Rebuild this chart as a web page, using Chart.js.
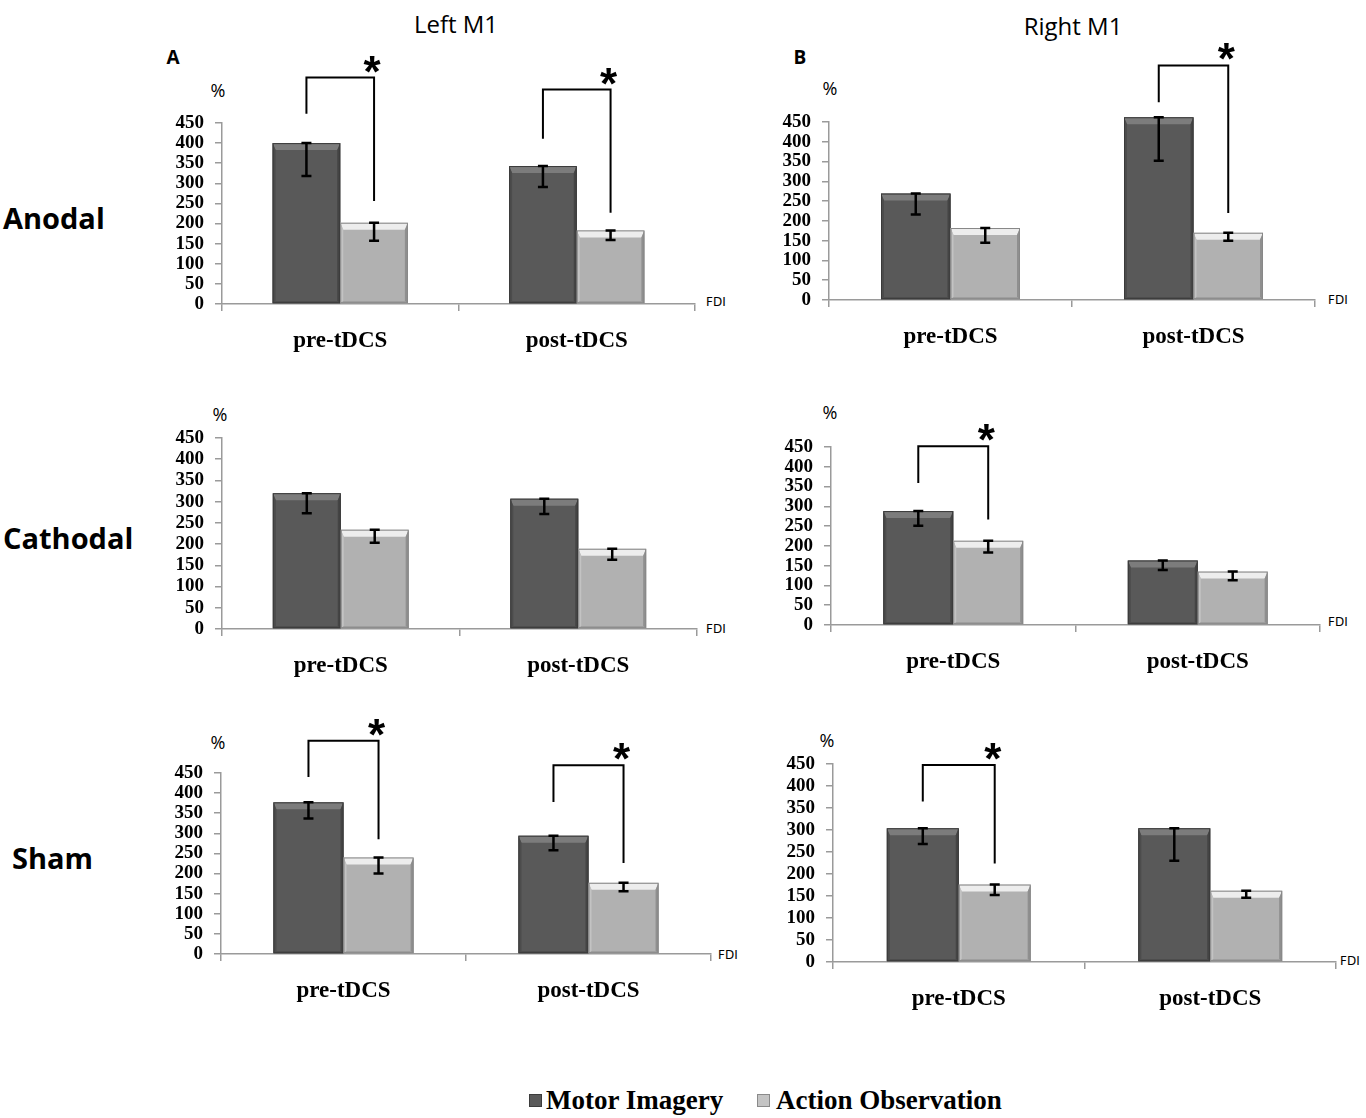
<!DOCTYPE html>
<html>
<head>
<meta charset="utf-8">
<script src="https://cdn.jsdelivr.net/npm/chart.js@4.4.0/dist/chart.umd.min.js"></script>
<style>
html,body{margin:0;padding:0;background:#fff;}
body{width:1366px;height:1118px;position:relative;overflow:hidden;}
.t{position:absolute;white-space:nowrap;transform:translate(-50%,-50%);line-height:1;color:#000;}
.tl{position:absolute;white-space:nowrap;transform:translate(0,-50%);line-height:1;color:#000;}
.sq{position:absolute;width:11px;height:11px;}
canvas{position:absolute;}
</style>
</head>
<body>
<div class="t" style="left:456px;top:23px;font:24px 'Open Sans',sans-serif;">Left M1</div>
<div class="t" style="left:1073px;top:25px;font:24px 'Open Sans',sans-serif;">Right M1</div>
<div class="t" style="left:173px;top:57px;font:bold 19px 'Open Sans',sans-serif;">A</div>
<div class="t" style="left:800px;top:57px;font:bold 19px 'Open Sans',sans-serif;">B</div>
<div class="tl" style="left:3px;top:217px;font:bold 29px 'Open Sans',sans-serif;">Anodal</div>
<div class="tl" style="left:3px;top:537px;font:bold 29px 'Open Sans',sans-serif;">Cathodal</div>
<div class="tl" style="left:12px;top:857px;font:bold 29px 'Open Sans',sans-serif;">Sham</div>

<div class="t" style="left:218px;top:90px;font:18px 'Open Sans',sans-serif;">%</div>
<div class="t" style="left:830px;top:88px;font:18px 'Open Sans',sans-serif;">%</div>
<div class="t" style="left:220px;top:414px;font:18px 'Open Sans',sans-serif;">%</div>
<div class="t" style="left:830px;top:412px;font:18px 'Open Sans',sans-serif;">%</div>
<div class="t" style="left:218px;top:742px;font:18px 'Open Sans',sans-serif;">%</div>
<div class="t" style="left:827px;top:740px;font:18px 'Open Sans',sans-serif;">%</div>

<div class="tl" style="left:706px;top:302px;font:12px 'DejaVu Sans',sans-serif;">FDI</div>
<div class="tl" style="left:1328px;top:300px;font:12px 'DejaVu Sans',sans-serif;">FDI</div>
<div class="tl" style="left:706px;top:629px;font:12px 'DejaVu Sans',sans-serif;">FDI</div>
<div class="tl" style="left:1328px;top:622px;font:12px 'DejaVu Sans',sans-serif;">FDI</div>
<div class="tl" style="left:718px;top:955px;font:12px 'DejaVu Sans',sans-serif;">FDI</div>
<div class="tl" style="left:1340px;top:961px;font:12px 'DejaVu Sans',sans-serif;">FDI</div>

<div class="sq" style="left:529px;top:1094px;background:#5a5a5a;border:1px solid #3c3c3c;"></div>
<div class="tl" style="left:546px;top:1100px;font:bold 27px 'Liberation Serif',serif;">Motor Imagery</div>
<div class="sq" style="left:757px;top:1094px;background:#c4c4c4;border:1px solid #8a8a8a;"></div>
<div class="tl" style="left:776px;top:1100px;font:bold 27px 'Liberation Serif',serif;">Action Observation</div>

<script>
// ---------- data ----------
const categories = ['pre-tDCS', 'post-tDCS'];
const seriesNames = ['Motor Imagery', 'Action Observation'];
const yTickValues = [0, 50, 100, 150, 200, 250, 300, 350, 400, 450];

// Left M1 - Anodal (A)
const leftAnodalMI = [400, 343];
const leftAnodalMIErr = [82, 52];
const leftAnodalAO = [202, 183];
const leftAnodalAOErr = [45, 24];
// [category index, MI leg end, AO leg end, bracket top] (values in %)
const leftAnodalBrackets = [[0, 473, 256, 563], [1, 411, 227, 533]];

// Right M1 - Anodal (B)
const rightAnodalMI = [269, 462];
const rightAnodalMIErr = [53, 110];
const rightAnodalAO = [182, 170];
const rightAnodalAOErr = [37, 20];
const rightAnodalBrackets = [[1, 500, 220, 593]];

// Left M1 - Cathodal
const leftCathodalMI = [320, 307];
const leftCathodalMIErr = [47, 36];
const leftCathodalAO = [234, 189];
const leftCathodalAOErr = [31, 26];
const leftCathodalBrackets = [];

// Right M1 - Cathodal
const rightCathodalMI = [288, 163];
const rightCathodalMIErr = [37, 24];
const rightCathodalAO = [213, 135];
const rightCathodalAOErr = [30, 22];
const rightCathodalBrackets = [[0, 359, 267, 452]];

// Left M1 - Sham
const leftShamMI = [377, 294];
const leftShamMIErr = [40, 36];
const leftShamAO = [240, 177];
const leftShamAOErr = [40, 21];
const leftShamBrackets = [[0, 440, 285, 530], [1, 378, 226, 469]];

// Right M1 - Sham
const rightShamMI = [304, 304];
const rightShamMIErr = [36, 74];
const rightShamAO = [176, 162];
const rightShamAOErr = [24, 16];
const rightShamBrackets = [[0, 365, 224, 448]];

// ---------- layout (plot-area pixel boxes) ----------
const PAD_TOP = 110, Y_W = 70, PAD_R = 60, X_H = 60;
const panelDefs = [
  {mi: leftAnodalMI, miErr: leftAnodalMIErr, ao: leftAnodalAO, aoErr: leftAnodalAOErr, br: leftAnodalBrackets, l: 222, r: 695, t: 123, b: 304},
  {mi: rightAnodalMI, miErr: rightAnodalMIErr, ao: rightAnodalAO, aoErr: rightAnodalAOErr, br: rightAnodalBrackets, l: 829, r: 1315, t: 122, b: 300},
  {mi: leftCathodalMI, miErr: leftCathodalMIErr, ao: leftCathodalAO, aoErr: leftCathodalAOErr, br: leftCathodalBrackets, l: 222, r: 697, t: 438, b: 629},
  {mi: rightCathodalMI, miErr: rightCathodalMIErr, ao: rightCathodalAO, aoErr: rightCathodalAOErr, br: rightCathodalBrackets, l: 831, r: 1320, t: 447, b: 625},
  {mi: leftShamMI, miErr: leftShamMIErr, ao: leftShamAO, aoErr: leftShamAOErr, br: leftShamBrackets, l: 221, r: 711, t: 773, b: 954},
  {mi: rightShamMI, miErr: rightShamMIErr, ao: rightShamAO, aoErr: rightShamAOErr, br: rightShamBrackets, l: 833, r: 1336, t: 764, b: 962}
];

const styles = [
  {body: '#595959', top: '#7c7c7c', left: '#4c4c4c', right: '#444444', bottom: '#4a4a4a', line: '#3a3a3a'},
  {body: '#b1b1b1', top: '#ededed', left: '#c3c3c3', right: '#8f8f8f', bottom: '#9a9a9a', line: '#888888'}
];

function poly(ctx, pts, fill) {
  ctx.beginPath();
  ctx.moveTo(pts[0][0], pts[0][1]);
  for (let i = 1; i < pts.length; i++) ctx.lineTo(pts[i][0], pts[i][1]);
  ctx.closePath();
  ctx.fillStyle = fill;
  ctx.fill();
}

const overlay = {
  id: 'overlay',
  afterDatasetsDraw(chart) {
    const ctx = chart.ctx;
    const ys = chart.scales.y;
    ctx.save();
    chart.data.datasets.forEach((ds, di) => {
      const st = styles[di];
      chart.getDatasetMeta(di).data.forEach((bar) => {
        const p = bar.getProps(['x', 'y', 'base', 'width'], true);
        const l = p.x - p.width / 2, r = p.x + p.width / 2, top = p.y, base = p.base;
        const bt = 7, bs = 3;
        poly(ctx, [[l, top], [r, top], [r - bs, top + bt], [l + bs, top + bt]], st.top);
        poly(ctx, [[l, top], [l + bs, top + bt], [l + bs, base - 2], [l, base]], st.left);
        poly(ctx, [[r, top], [r - bs, top + bt], [r - bs, base - 2], [r, base]], st.right);
        poly(ctx, [[l, base], [l + bs, base - 2], [r - bs, base - 2], [r, base]], st.bottom);
        ctx.strokeStyle = st.line;
        ctx.lineWidth = 1;
        ctx.strokeRect(l + 0.5, top + 0.5, p.width - 1, base - top - 1);
      });
    });
    // error bars (downward, from mean to mean - SE)
    ctx.strokeStyle = '#000';
    ctx.lineWidth = 2.5;
    chart.data.datasets.forEach((ds, di) => {
      chart.getDatasetMeta(di).data.forEach((bar, j) => {
        const x = bar.x;
        const y1 = ys.getPixelForValue(ds.data[j]);
        const y2 = ys.getPixelForValue(ds.data[j] - ds.errors[j]);
        ctx.beginPath();
        ctx.moveTo(x, y1); ctx.lineTo(x, y2);
        ctx.moveTo(x - 5, y2); ctx.lineTo(x + 5, y2);
        ctx.moveTo(x - 5, y1); ctx.lineTo(x + 5, y1);
        ctx.stroke();
      });
    });
    ctx.restore();
  },
  afterDraw(chart) {
    const ctx = chart.ctx;
    const ys = chart.scales.y;
    const brackets = chart.options.plugins.overlay.brackets;
    ctx.save();
    ctx.strokeStyle = '#000';
    ctx.fillStyle = '#000';
    ctx.lineWidth = 2;
    brackets.forEach(([cat, miEnd, aoEnd, topVal]) => {
      const xm = chart.getDatasetMeta(0).data[cat].x;
      const xa = chart.getDatasetMeta(1).data[cat].x;
      const yT = ys.getPixelForValue(topVal);
      ctx.beginPath();
      ctx.moveTo(xm, ys.getPixelForValue(miEnd));
      ctx.lineTo(xm, yT);
      ctx.lineTo(xa, yT);
      ctx.lineTo(xa, ys.getPixelForValue(aoEnd));
      ctx.stroke();
      ctx.font = 'bold 44px "Liberation Sans", Arial, sans-serif';
      ctx.textAlign = 'center';
      ctx.textBaseline = 'alphabetic';
      ctx.fillText('*', xa - 2, yT + 9);
    });
    ctx.restore();
  }
};

panelDefs.forEach((p) => {
  const c = document.createElement('canvas');
  const w = (p.r - p.l) + Y_W + PAD_R;
  const h = (p.b - p.t) + PAD_TOP + X_H;
  c.width = w; c.height = h;
  c.style.width = w + 'px'; c.style.height = h + 'px';
  c.style.left = (p.l - Y_W) + 'px';
  c.style.top = (p.t - PAD_TOP) + 'px';
  document.body.appendChild(c);

  new Chart(c, {
    type: 'bar',
    data: {
      labels: categories,
      datasets: [
        {label: seriesNames[0], data: p.mi, errors: p.miErr, backgroundColor: styles[0].body, borderWidth: 0, clip: false},
        {label: seriesNames[1], data: p.ao, errors: p.aoErr, backgroundColor: styles[1].body, borderWidth: 0, clip: false}
      ]
    },
    options: {
      responsive: false,
      animation: false,
      layout: {padding: {top: PAD_TOP, right: PAD_R, left: 0, bottom: 0}},
      datasets: {bar: {categoryPercentage: 0.572, barPercentage: 1.0}},
      plugins: {
        legend: {display: false},
        tooltip: {enabled: false},
        title: {display: false},
        overlay: {brackets: p.br}
      },
      scales: {
        x: {
          offset: true,
          afterFit(s) { s.height = X_H; },
          border: {display: true, color: '#9a9a9a', width: 1.5},
          grid: {offset: true, drawOnChartArea: false, drawTicks: true, tickLength: 7, color: '#9a9a9a', lineWidth: 1.5},
          ticks: {color: '#000', padding: 16, maxRotation: 0, autoSkip: false,
                  font: {family: "'Liberation Serif', 'Times New Roman', serif", size: 23, weight: 'bold'}}
        },
        y: {
          min: 0, max: 450,
          afterFit(s) { s.width = Y_W; },
          afterBuildTicks(s) { s.ticks = yTickValues.map(v => ({value: v})); },
          border: {display: true, color: '#9a9a9a', width: 1.5},
          grid: {drawOnChartArea: false, drawTicks: true, tickLength: 7, color: '#9a9a9a', lineWidth: 1.5},
          ticks: {color: '#000', padding: 11, autoSkip: false,
                  font: {family: "'Liberation Serif', 'Times New Roman', serif", size: 19, weight: 'bold', lineHeight: 1}}
        }
      }
    },
    plugins: [overlay]
  });
});
</script>
</body>
</html>
